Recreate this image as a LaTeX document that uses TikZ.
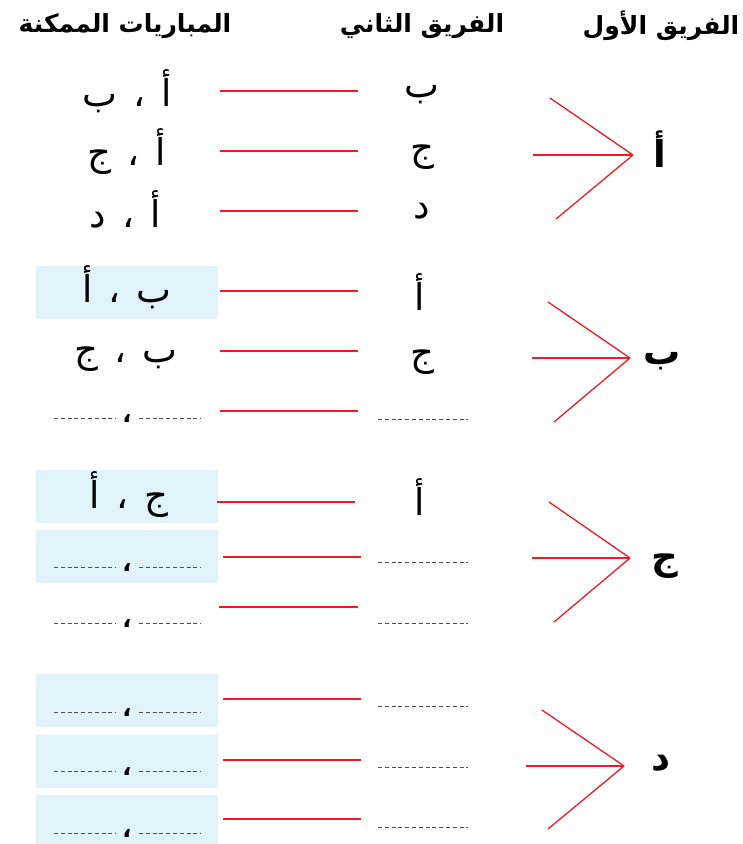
\documentclass[tikz,border=0pt]{standalone}
\usepackage{fontspec}
\newfontfamily\arabicfont[Script=Arabic]{DejaVu Sans}
\TeXXeTstate=1
\definecolor{redline}{HTML}{ED1C24}
\definecolor{boxblue}{HTML}{E0F2FA}
\definecolor{dashgray}{HTML}{4D4D4D}
\begin{document}
\begin{tikzpicture}[x=1pt,y=-1pt,
  head/.style={font=\arabicfont\bfseries\fontsize{25}{30}\selectfont, inner sep=0pt},
  ar/.style={font=\arabicfont\fontsize{37}{42}\selectfont, inner sep=0pt, anchor=base},
  big/.style={font=\arabicfont\bfseries\fontsize{37}{42}\selectfont, inner sep=0pt, anchor=base},
  redln/.style={draw=redline, line width=1.3pt},
  bbox/.style={fill=boxblue, draw=none},
  dashln/.style={draw=dashgray, line width=1pt, dash pattern=on 4pt off 2.8pt},
  commast/.style={font=\arabicfont\bfseries\fontsize{24}{28}\selectfont, inner sep=0pt, anchor=base}
]
\useasboundingbox (0,0) rectangle (743,844);

% headers
\node[head] (h1) at (661,26) {\beginR الفريق الأول\endR};
\node[head] (h2) at (422,26) {\beginR الفريق الثاني\endR};
\node[head] (h3) at (125,26) {\beginR المباريات الممكنة\endR};

% blue boxes
\fill[bbox] (36,266) rectangle (218,319);
\fill[bbox] (36,470) rectangle (218,523);
\fill[bbox] (36,530) rectangle (218,583);
\fill[bbox] (36,674) rectangle (218,727);
\fill[bbox] (36,735) rectangle (218,788);
\fill[bbox] (36,795) rectangle (218,844);

% pair texts
\node[ar] (p11) at (127,106) {\beginR أ\hspace{16pt}،\hspace{16pt}ب\endR};
\node[ar] (p12) at (127,165) {\beginR أ\hspace{16pt}،\hspace{16pt}ج\endR};
\node[ar] (p13) at (125,227) {\beginR أ\hspace{16pt}،\hspace{16pt}د\endR};
\node[ar] (p21) at (127,302) {\beginR ب\hspace{16pt}،\hspace{16pt}أ\endR};
\node[ar] (p22) at (126,362) {\beginR ب\hspace{16pt}،\hspace{16pt}ج\endR};
\node[ar] (p31) at (129,508) {\beginR ج\hspace{16pt}،\hspace{16pt}أ\endR};

% dashed pair rows: comma + two dashed blanks
\foreach \n/\y in {p23/418, p32/567, p33/623, p41/712, p42/771, p43/833}{
  \node[commast] (\n) at (127,\y+4) {\beginR ،\endR};
  \coordinate (\n a) at (54,\y);
  \coordinate (\n b) at (116,\y);
  \coordinate (\n c) at (139,\y);
  \coordinate (\n d) at (201,\y);
  \draw[dashln] (\n a) -- (\n b);
  \draw[dashln] (\n c) -- (\n d);
}

% second-team letters
\node[ar] (m11) at (422,97) {ب};
\node[ar] (m12) at (422,160) {ج};
\node[ar] (m13) at (422,218) {د};
\node[ar] (m21) at (420,310) {أ};
\node[ar] (m22) at (422,365) {ج};
\node[ar] (m31) at (420,515) {أ};
\foreach \n/\y in {m23/419, m32/562, m33/623, m41/706, m42/767, m43/827}{
  \coordinate (\n a) at (378,\y);
  \coordinate (\n b) at (468,\y);
  \draw[dashln] (\n a) -- (\n b);
}

% red connectors between columns
\foreach \n/\xa/\xb/\y in {r11/220/358/91, r12/220/358/151, r13/220/358/211,
                          r21/220/358/291, r22/220/358/351, r23/220/358/411,
                          r31/217/355/502, r32/223/361/557, r33/219/358/607,
                          r41/223/361/699, r42/223/361/760, r43/223/361/819}{
  \coordinate (\n a) at (\xa,\y);
  \coordinate (\n b) at (\xb,\y);
  \draw[redln] (\n a) -- (\n b);
}

% first-team letters with fans
\node[big] (t1) at (660,167) {أ};
\node[big] (t2) at (662,364) {ب};
\node[big] (t3) at (665,569) {ج};
\node[big] (t4) at (661,770) {د};

\coordinate (f1) at (633,155);
\coordinate (f1a) at (550,98);
\coordinate (f1b) at (533,155);
\coordinate (f1c) at (556,219);
\coordinate (f2) at (630,358);
\coordinate (f2a) at (548,302);
\coordinate (f2b) at (532,358);
\coordinate (f2c) at (554,422);
\coordinate (f3) at (630,558);
\coordinate (f3a) at (549,502);
\coordinate (f3b) at (532,558);
\coordinate (f3c) at (554,622);
\coordinate (f4) at (624,766);
\coordinate (f4a) at (542,710);
\coordinate (f4b) at (526,766);
\coordinate (f4c) at (548,829);
\foreach \i in {1,2,3,4}{
  \draw[redln] (f\i a) -- (f\i);
  \draw[redln] (f\i b) -- (f\i);
  \draw[redln] (f\i c) -- (f\i);
}
\end{tikzpicture}
\end{document}
